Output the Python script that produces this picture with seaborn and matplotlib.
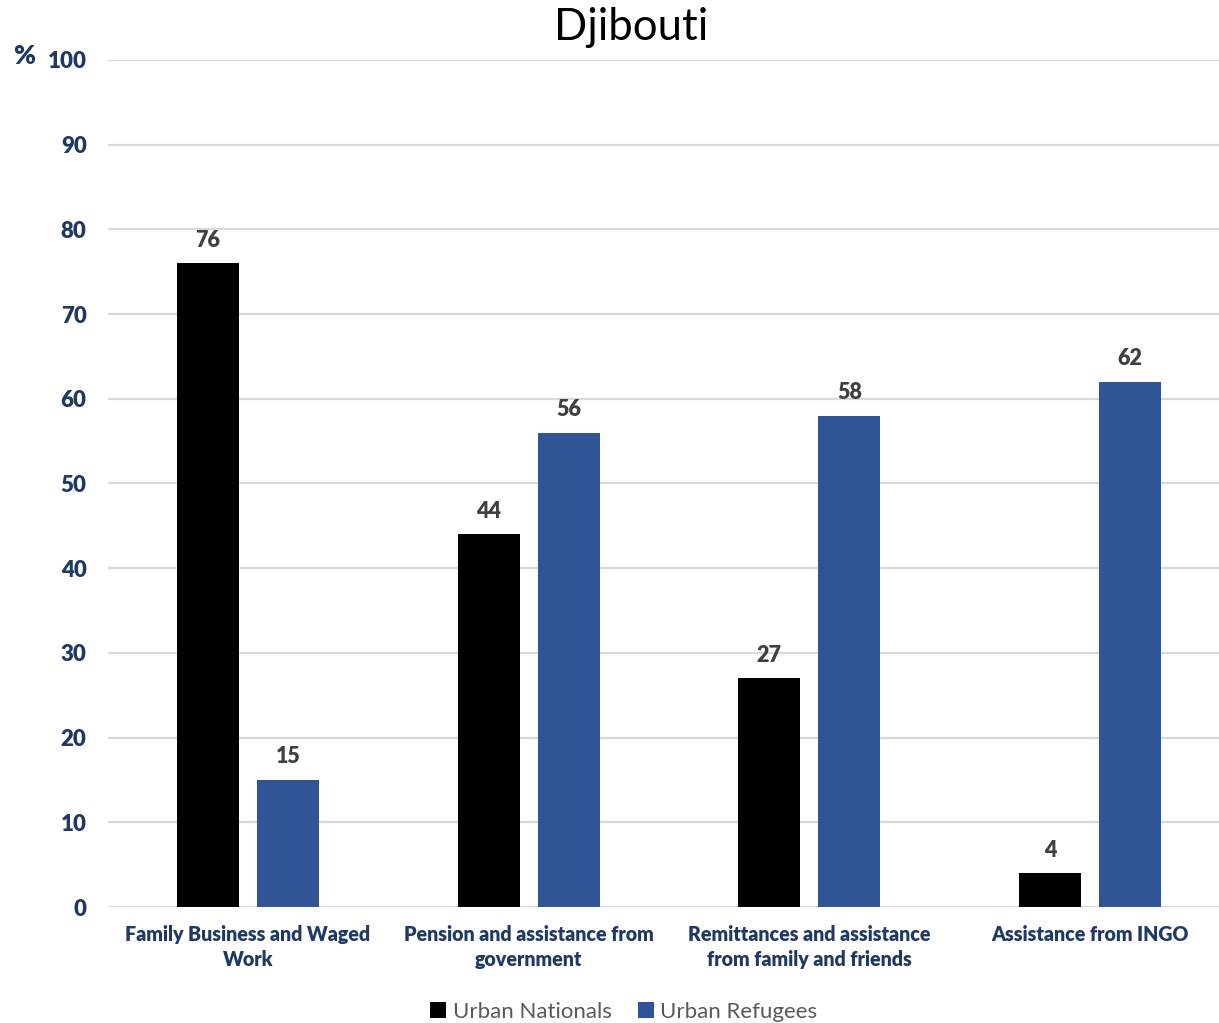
import matplotlib
matplotlib.use("Agg")
import matplotlib.pyplot as plt
import seaborn as sns
import pandas as pd
from matplotlib.patches import Patch

categories = [
    "Family Business and Waged\nWork",
    "Pension and assistance from\ngovernment",
    "Remittances and assistance\nfrom family and friends",
    "Assistance from INGO",
]
urban_nationals = [76, 44, 27, 4]
urban_refugees = [15, 56, 58, 62]
series_names = ["Urban Nationals", "Urban Refugees"]
yticks = list(range(0, 101, 10))

df = pd.DataFrame({
    "category": categories * 2,
    "group": [series_names[0]] * 4 + [series_names[1]] * 4,
    "value": urban_nationals + urban_refugees,
})

sns.set_theme(style="white")
plt.rcParams["font.family"] = ["Lato", "DejaVu Sans"]

navy = "#1F3864"
heavy = 800
palette = {series_names[0]: "#000000", series_names[1]: "#2F5597"}

fig = plt.figure(figsize=(12.19, 10.23), dpi=100)
ax = fig.add_axes([107.5 / 1219, 116 / 1023, 1123 / 1219, 847 / 1023])

sns.barplot(data=df, x="category", y="value", hue="group", order=categories,
            hue_order=series_names, palette=palette, width=0.57, gap=0.225,
            saturation=1, legend=False, edgecolor="none", linewidth=0, ax=ax)

for cont in ax.containers:
    ax.bar_label(cont, fmt="%d", padding=9, fontsize=15.5, fontweight=heavy,
                 color="#404040")

ax.set_ylim(0, 100)
ax.set_xlim(-0.5, 3.5)
ax.set_yticks(yticks)
ax.set_yticklabels([str(t) for t in yticks], fontsize=16, fontweight=heavy,
                   color=navy)
ax.set_xticks(range(len(categories)))
ax.set_xticklabels(categories, fontsize=14.1, fontweight=heavy, color=navy,
                   linespacing=1.4)
ax.tick_params(axis="y", length=0, pad=15)
ax.tick_params(axis="x", length=0, pad=13)
ax.set_xlabel("")
ax.set_ylabel("")
ax.grid(axis="y", color="#D9D9D9", linewidth=1.6)
ax.set_axisbelow(True)
for s in ax.spines.values():
    s.set_visible(False)

fig.text(631 / 1219, 1 - 27 / 1023, "Djibouti", ha="center", va="center",
         fontsize=31.5, color="#000000")
fig.text(24 / 1219, 1 - 56 / 1023, "%", ha="center", va="center",
         fontsize=19, fontweight=heavy, color=navy)

handles = [Patch(facecolor=palette[n], edgecolor="none") for n in series_names]
fig.legend(handles, series_names, loc="center", bbox_to_anchor=(624 / 1219, 1 - 1012 / 1023),
           ncol=2, frameon=False, fontsize=16, labelcolor="#595959",
           handlelength=0.7, handleheight=0.7, handletextpad=0.3,
           columnspacing=1.2)

fig.savefig("out.png", dpi=100)
